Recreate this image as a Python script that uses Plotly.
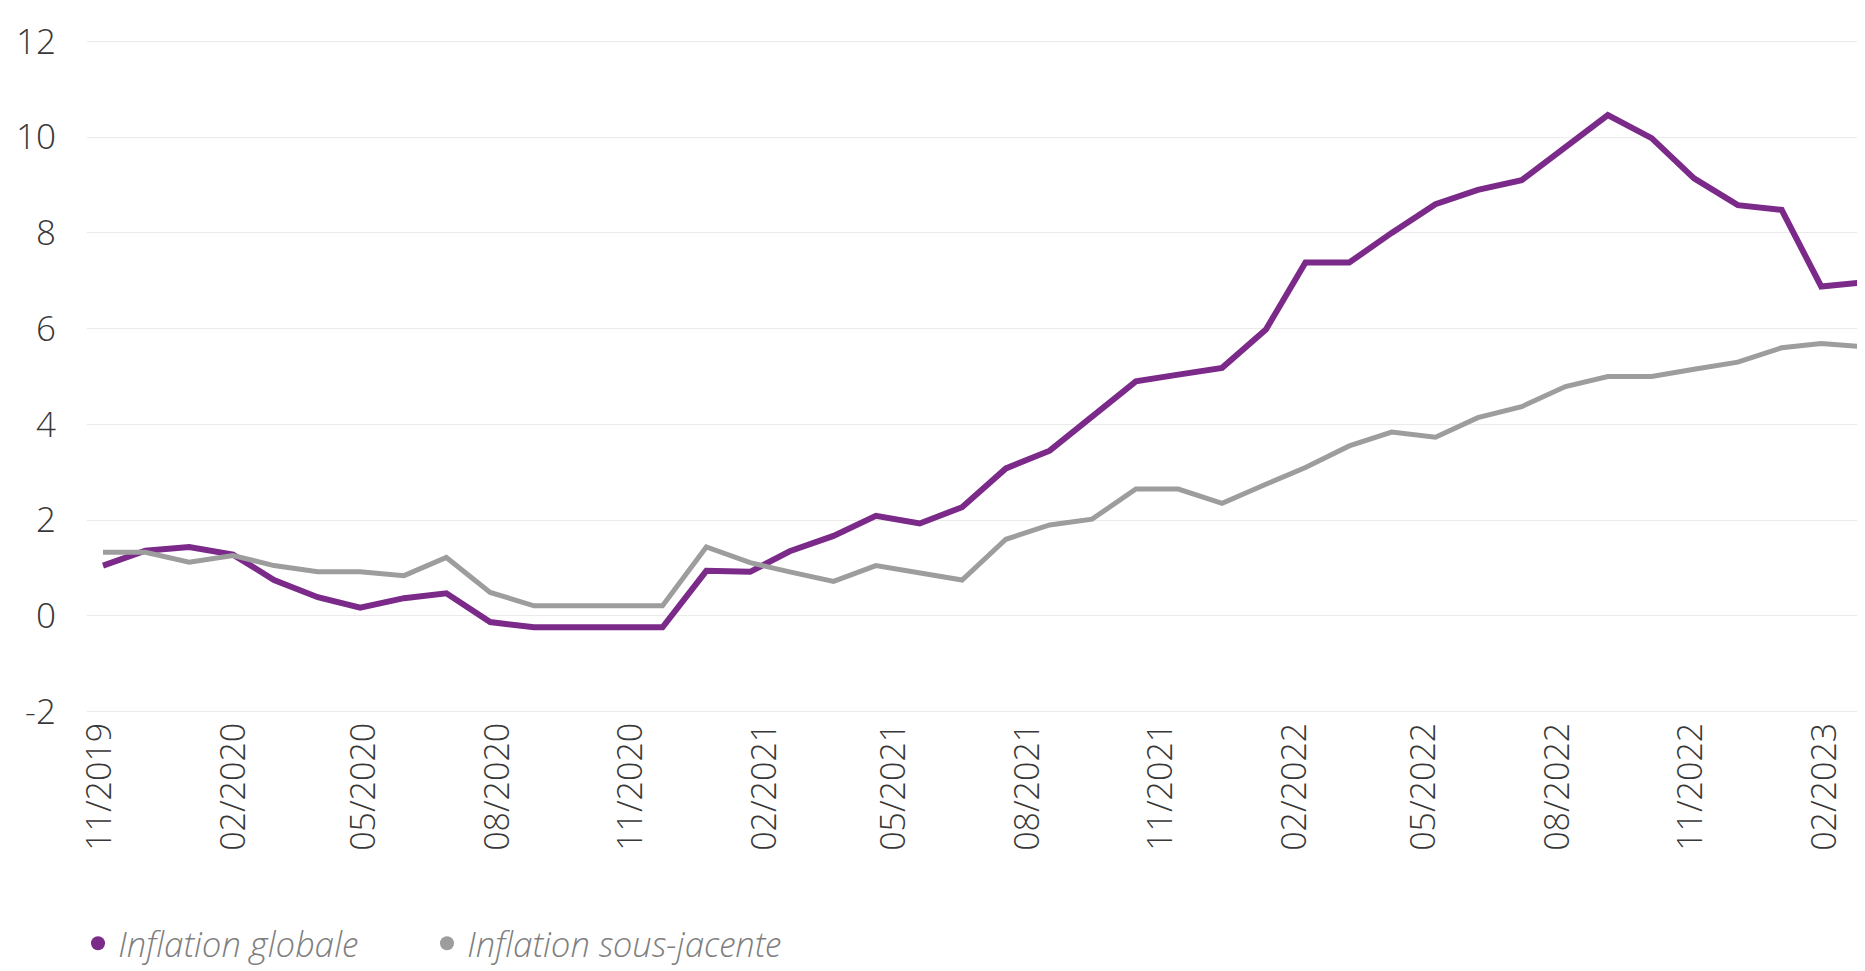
import pandas as pd
import plotly.graph_objects as go

# ---- data ----
months = pd.date_range("2019-11-01", periods=42, freq="MS")

inflation_globale = [
    1.05, 1.36, 1.44, 1.28, 0.75, 0.39, 0.17, 0.37, 0.47, -0.13,
    -0.24, -0.24, -0.24, -0.24, 0.94, 0.92, 1.35, 1.67, 2.09, 1.93,
    2.27, 3.08, 3.45, 4.18, 4.90, 5.04, 5.18, 5.98, 7.38, 7.38,
    8.00, 8.60, 8.90, 9.10, 9.80, 10.46, 9.98, 9.14, 8.58, 8.48,
    6.88, 6.97,
]
inflation_sous_jacente = [
    1.33, 1.33, 1.12, 1.26, 1.05, 0.92, 0.92, 0.84, 1.22, 0.49,
    0.21, 0.21, 0.21, 0.21, 1.44, 1.11, 0.92, 0.72, 1.05, 0.91,
    0.75, 1.60, 1.90, 2.02, 2.65, 2.65, 2.35, 2.75, 3.10, 3.55,
    3.84, 3.73, 4.14, 4.37, 4.79, 5.00, 5.00, 5.15, 5.30, 5.60,
    5.69, 5.62,
]
series_names = ["Inflation globale", "Inflation sous-jacente"]
series_colors = ["#7b2a8a", "#9d9d9d"]
y_ticks = [-2, 0, 2, 4, 6, 8, 10, 12]
y_tick_labels = [str(v) for v in y_ticks]

# ---- layout geometry (pixels, figure coordinates; page body adds 8px) ----
OFF = 8
W, H = 1865, 971
LEFT = 87 - OFF
TOP = 39 - OFF
RIGHT = OFF
BOTTOM = H - (714 - OFF)
plot_w = W - LEFT - RIGHT

def date_range_for(t_a, px_a, t_b, px_b):
    px_a -= OFF
    px_b -= OFF
    days = (t_b - t_a) / pd.Timedelta(days=1)
    per_day = (px_b - px_a) / days
    start = t_a - pd.Timedelta(days=(px_a - LEFT) / per_day)
    end = t_a + pd.Timedelta(days=(LEFT + plot_w - px_a) / per_day)
    return [start.isoformat(), end.isoformat()]

def legend_x(screen_px):
    return (screen_px - OFF - LEFT) / plot_w

data_range = date_range_for(months[0], 103, months[-1], 1865)
tick_range = date_range_for(pd.Timestamp("2019-11-01"), 100, pd.Timestamp("2023-02-01"), 1825)

FONT = "Open Sans Light, Open Sans, Noto Sans, sans-serif"
TXT = "#383838"

fig = go.Figure()
for name, vals, col, w in zip(series_names, [inflation_globale, inflation_sous_jacente],
                              series_colors, [6, 5]):
    fig.add_trace(go.Scatter(x=months, y=vals, mode="lines", name=name,
                             line=dict(color=col, width=w), showlegend=False,
                             hoverinfo="x+y"))
for name, col, lg in zip(series_names, series_colors, ["legend", "legend2"]):
    fig.add_trace(go.Scatter(x=[None], y=[None], mode="markers", name=name,
                             marker=dict(color=col, size=14, symbol="circle"),
                             xaxis="x2", showlegend=True, legend=lg))

legend_font = dict(family=FONT, size=35, color="#7f7f7f", style="italic", weight=300)
legend_common = dict(orientation="h", xanchor="left", y=-0.340, yanchor="middle",
                     font=legend_font, itemsizing="trace",
                     bgcolor="rgba(0,0,0,0)")

fig.update_layout(
    width=W, height=H,
    margin=dict(l=LEFT, r=RIGHT, t=TOP, b=BOTTOM, pad=0, autoexpand=False),
    paper_bgcolor="white", plot_bgcolor="white",
    font=dict(family=FONT, size=34, color=TXT, weight=300),
    xaxis=dict(type="date", range=data_range, visible=False, showgrid=False,
               zeroline=False),
    xaxis2=dict(type="date", range=tick_range, overlaying="x", anchor="y",
                side="bottom", tick0="2019-11-01", dtick="M3",
                tickformat="%m/%Y", tickangle=-90, showgrid=False,
                zeroline=False, showline=False, ticks="",
                ticklabelstandoff=1,
                tickfont=dict(family=FONT, size=34, color=TXT, weight=300)),
    yaxis=dict(range=[-2.05, 12.05], tickvals=y_ticks, ticktext=y_tick_labels,
               showgrid=True, gridcolor="#ebebeb", gridwidth=1, zeroline=False,
               showline=False, ticks="", ticklabelstandoff=30,
               tickfont=dict(family=FONT, size=35, color=TXT, weight=300)),
    showlegend=True,
    legend=dict(x=legend_x(78), **legend_common),
    legend2=dict(x=legend_x(427), **legend_common),
)

fig.write_html("out.html")
